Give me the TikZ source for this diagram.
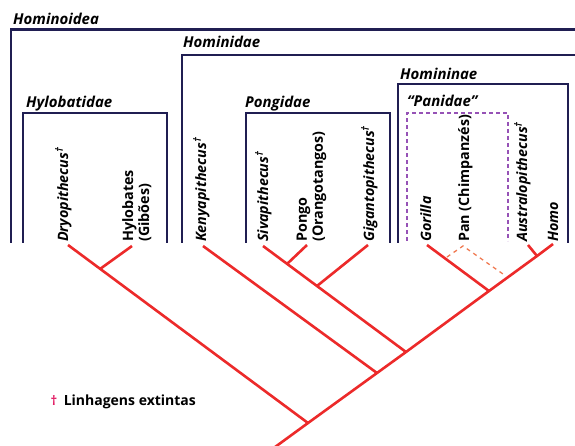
\documentclass[tikz,border=0pt]{standalone}
\usepackage{fontspec}
\setmainfont{Open Sans}
\usetikzlibrary{positioning}
\definecolor{cladeblue}{RGB}{32,30,82}
\definecolor{treered}{RGB}{236,42,42}
\definecolor{panviolet}{RGB}{150,82,182}
\definecolor{panorange}{RGB}{240,122,82}
\definecolor{extinctpink}{RGB}{226,32,102}
\newcommand{\extinct}{\textsuperscript{†}}

\begin{document}
\begin{tikzpicture}[
        x=1pt, y=-1pt,
        clade/.style={draw=cladeblue, line width=2.6pt},
        panbox/.style={draw=panviolet, line width=1.4pt, dash pattern=on 4pt off 3pt},
        cladename/.style={anchor=base west, inner sep=0pt, font=\bfseries\itshape\fontsize{15}{17}\selectfont},
        taxon/.style={rotate=90, anchor=base west, inner sep=0pt, font=\bfseries\fontsize{14.3}{16}\selectfont},
        fossil/.style={taxon, font=\bfseries\itshape\fontsize{14.3}{16}\selectfont},
        twoline/.style={taxon, anchor=north west, align=left},
        branch/.style={draw=treered, line width=2.6pt},
        doubtful/.style={draw=panorange, line width=1.3pt, dash pattern=on 4pt off 4pt}
    ]
        \useasboundingbox (0,0) rectangle (575,446);
        \clip (0,0) rectangle (575,446);

        % Clade boxes
        \draw[clade] (11,243) |- (590,29.5);
        \draw[clade] (182,243) |- (590,55);
        \draw[clade] (398,243) |- (568,84) -- (568,243);
        \draw[clade] (23,243) |- (167,113) -- (167,243);
        \draw[clade] (246,243) |- (390,113) -- (390,243);
        \draw[panbox] (407,241) |- (508,113) -- (508,241);

        \node[cladename] (hominoidea) at (13,25) {Hominoidea};
        \node[cladename] (hominidae) at (183,48) {Hominidae};
        \node[cladename] (homininae) at (400,80) {Homininae};
        \node[cladename] (hylobatidae) at (26,108) {Hylobatidae};
        \node[cladename] (pongidae) at (245,108) {Pongidae};
        \node[cladename] (panidae) at (407,107) {“Panidae”};

        % Taxa
        \node[fossil] (dryo) at (68,242) {Dryopithecus\extinct};
        \node[twoline] (hylo) at (122,242) {Hylobates\\(Gibões)};
        \node[fossil] (kenya) at (206,242) {Kenyapithecus\extinct};
        \node[fossil] (siva) at (268,242) {Sivapithecus\extinct};
        \node[twoline] (pongo) at (296.5,242) {Pongo\\(Orangotangos)};
        \node[fossil] (giganto) at (374,242) {Gigantopithecus\extinct};
        \node[fossil] (gorilla) at (431,242) {Gorilla};
        \node[taxon] (pan) at (469,242) {Pan (Chimpanzés)};
        \node[fossil] (austr) at (527,242) {Australopithecus\extinct};
        \node[fossil] (homo) at (558,242) {Homo};

        % Tips and junctions
        \coordinate (tDryo) at (68,245);
        \coordinate (tHylo) at (132,246);
        \coordinate (tKenya) at (203,246);
        \coordinate (tSiva) at (263,246);
        \coordinate (tPongo) at (307,245);
        \coordinate (tGiganto) at (368,245);
        \coordinate (tGorilla) at (427,245);
        \coordinate (tPan) at (463,246);
        \coordinate (tAustr) at (528,245);
        \coordinate (tHomo) at (553,244);

        \coordinate (root) at (271,450);
        \coordinate (jA) at (308,423);
        \coordinate (jB) at (377,373);
        \coordinate (jC) at (406,352);
        \coordinate (jD) at (489,291);
        \coordinate (jE) at (537,256);
        \coordinate (jDH) at (100,269);
        \coordinate (jSP) at (287,264);
        \coordinate (jSG) at (317,286);
        \coordinate (pL) at (447,257);
        \coordinate (pR) at (503,274);

        % Tree
        \draw[branch] (root) -- (jA) -- (jB) -- (jC) -- (jD) -- (jE) -- (tHomo);
        \draw[branch] (tDryo) -- (jA);
        \draw[branch] (tHylo) -- (jDH);
        \draw[branch] (tKenya) -- (jB);
        \draw[branch] (tSiva) -- (jC);
        \draw[branch] (tPongo) -- (jSP);
        \draw[branch] (tGiganto) -- (jSG);
        \draw[branch] (tGorilla) -- (jD);
        \draw[branch] (tAustr) -- (jE);
        \draw[doubtful] (pL) -- (tPan) -- (pR);

        % Legend
        \node[anchor=base, inner sep=0pt, text=extinctpink, font=\bfseries\fontsize{13}{15}\selectfont] (dagger) at (54,405) {†};
        \node[base right=6pt of dagger, inner sep=0pt, font=\bfseries\fontsize{14}{16}\selectfont] (legend) {Linhagens extintas};
\end{tikzpicture}
\end{document}
